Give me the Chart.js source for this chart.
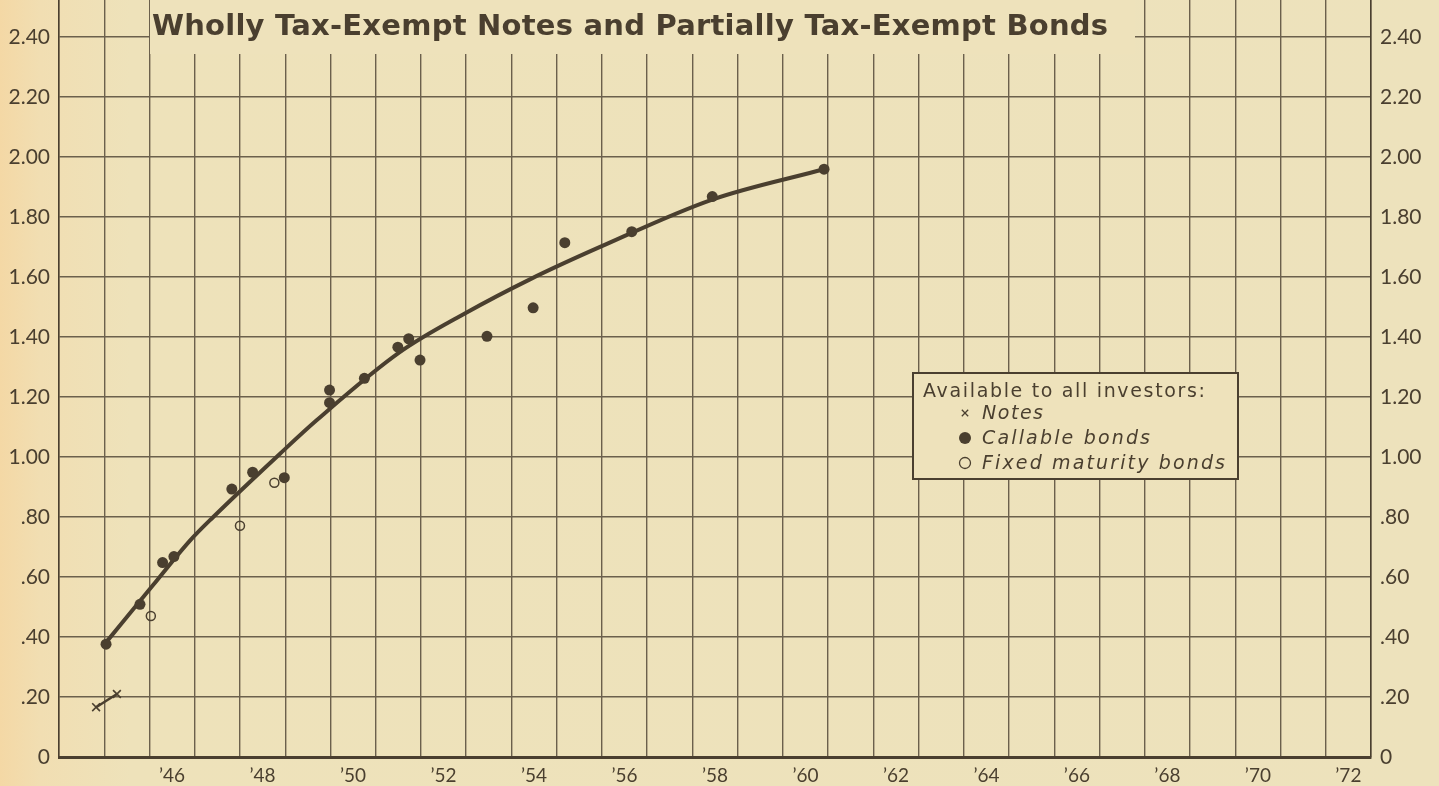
<!DOCTYPE html>
<html>
<head>
<meta charset="utf-8">
<title>Wholly Tax-Exempt Notes and Partially Tax-Exempt Bonds</title>
<script src="https://cdn.jsdelivr.net/npm/chart.js@4.4.1/dist/chart.umd.min.js"></script>
<style>
  html, body { margin: 0; padding: 0; }
  body {
    width: 1439px;
    height: 786px;
    overflow: hidden;
    background: linear-gradient(to right, #f4d8a5 0px, #f1deb2 40px, #eee2ba 130px, #ede2bc 100%);
  }
  #wrap { position: relative; width: 1439px; height: 786px; }
</style>
</head>
<body>
<div id="wrap"><canvas id="chartYieldCurve"></canvas></div>
<script>
// values (year of maturity, yield in %)
const callableYears = [1945.04, 1945.79, 1946.29, 1946.54, 1947.82, 1948.28, 1948.98, 1949.98, 1949.98, 1950.75, 1951.49, 1951.73, 1951.98, 1953.46, 1954.48, 1955.18, 1956.66, 1958.44, 1960.91]
const callableYields = [0.376, 0.509, 0.648, 0.668, 0.893, 0.949, 0.931, 1.223, 1.181, 1.262, 1.366, 1.394, 1.323, 1.402, 1.497, 1.714, 1.751, 1.868, 1.959]

const fixedYears = [1946.03, 1948.00, 1948.76]
const fixedYields = [0.470, 0.771, 0.914]

const notesYears = [1944.82, 1945.28]
const notesYields = [0.166, 0.210]

// fitted curve, points
const curveYears = [1945.04, 1946.08, 1946.90, 1947.41, 1948.88, 1949.70, 1951.54, 1952.98, 1954.41, 1955.96, 1958.44, 1960.91]
const curveYields = [0.382, 0.573, 0.722, 0.800, 1.010, 1.123, 1.350, 1.479, 1.592, 1.700, 1.858, 1.959]

const yTicks = [0, 0.2, 0.4, 0.6, 0.8, 1.0, 1.2, 1.4, 1.6, 1.8, 2.0, 2.2, 2.4]
const yTickLabels = ['0', '.20', '.40', '.60', '.80', '1.00', '1.20', '1.40', '1.60', '1.80', '2.00', '2.20', '2.40']

const xLabelYears = [1946, 1948, 1950, 1952, 1954, 1956, 1958, 1960, 1962, 1964, 1966, 1968, 1970, 1972]
const xTickLabels = ['\u201946', '\u201948', '\u201950', '\u201952', '\u201954', '\u201956', '\u201958', '\u201960', '\u201962', '\u201964', '\u201966', '\u201968', '\u201970', '\u201972']

const titleText = 'Wholly Tax-Exempt Notes and Partially Tax-Exempt Bonds'
const legendTitle = 'Available to all investors:'

const ink = '#4a3f2f'
const gridInk = '#6b604c'
const paper = '#eee2bb'

const xMin = 1944
const xMax = 1973
const yMax = 2.523

function points(xs, ys) {
    return xs.map((x, i) => ({x: x, y: ys[i]}))
}

// text stretched to a given width, like the hand lettering
function drawSpaced(ctx, text, x, y, width) {
    ctx.letterSpacing = '0px'
    const w = ctx.measureText(text).width
    const gap = (width - w) / (text.length - 1)
    ctx.letterSpacing = gap + 'px'
    ctx.fillText(text, x, y)
    ctx.letterSpacing = '0px'
}

const titleBox = {
    id: 'titleBox',
    afterDraw(chart) {
        const ctx = chart.ctx
        ctx.save()
        ctx.fillStyle = paper
        ctx.fillRect(150, 0, 985, 54)
        ctx.fillStyle = ink
        ctx.font = 'bold 29px "DejaVu Sans"'
        ctx.textBaseline = 'alphabetic'
        drawSpaced(ctx, titleText, 152, 35, 956)
        ctx.restore()
    }
}

const legendBox = {
    id: 'legendBox',
    afterDraw(chart) {
        const ctx = chart.ctx
        const bx = 913, by = 373, bw = 325, bh = 106
        ctx.save()
        ctx.fillStyle = paper
        ctx.fillRect(bx, by, bw, bh)
        ctx.lineWidth = 2
        ctx.strokeStyle = ink
        ctx.strokeRect(bx, by, bw, bh)

        ctx.fillStyle = ink
        ctx.textBaseline = 'alphabetic'
        ctx.font = '19px "DejaVu Sans"'
        drawSpaced(ctx, legendTitle, bx + 10, by + 24, 282)

        const entries = chart.data.datasets.filter(d => d.legendLabel)
        const widths = [61, 168, 243]
        entries.forEach((d, i) => {
            const cy = by + 40 + i * 25
            ctx.fillStyle = d.backgroundColor
            ctx.strokeStyle = d.borderColor
            ctx.lineWidth = d.legendBorder
            Chart.helpers.drawPoint(ctx, {pointStyle: d.pointStyle, radius: d.legendRadius, rotation: 0, borderWidth: d.legendBorder}, bx + 52, cy)
            ctx.fillStyle = ink
            ctx.font = 'italic 19px "DejaVu Sans"'
            drawSpaced(ctx, d.legendLabel, bx + 69, cy + 6, widths[i])
        })
        ctx.restore()
    }
}

const data = {
    datasets: [
        {
            legendLabel: 'Notes',
            data: points(notesYears, notesYields),
            showLine: true,
            borderColor: ink,
            backgroundColor: ink,
            borderWidth: 2.5,
            pointStyle: 'crossRot',
            pointRadius: 5.5,
            pointBorderWidth: 1.6,
            legendRadius: 4.5,
            legendBorder: 1.3,
            order: 1
        },
        {
            legendLabel: 'Callable bonds',
            data: points(callableYears, callableYields),
            showLine: false,
            borderColor: ink,
            backgroundColor: ink,
            pointStyle: 'circle',
            pointRadius: 5.5,
            pointBorderWidth: 0,
            legendRadius: 6,
            legendBorder: 0,
            order: 1
        },
        {
            legendLabel: 'Fixed maturity bonds',
            data: points(fixedYears, fixedYields),
            showLine: false,
            borderColor: ink,
            backgroundColor: 'rgba(0,0,0,0)',
            pointStyle: 'circle',
            pointRadius: 4.5,
            pointBorderWidth: 1.5,
            legendRadius: 5.5,
            legendBorder: 1.3,
            order: 1
        },
        {
            data: points(curveYears, curveYields),
            showLine: true,
            borderColor: ink,
            borderWidth: 4,
            pointRadius: 0,
            cubicInterpolationMode: 'monotone',
            order: 2
        }
    ]
}

const zeroPadding = (scale) => {
    scale.paddingTop = 0
    scale.paddingBottom = 0
    scale.paddingLeft = 0
    scale.paddingRight = 0
}

const yAxis = (position, width, withGrid) => ({
    type: 'linear',
    position: position,
    min: 0,
    max: yMax,
    afterBuildTicks: (scale) => { scale.ticks = yTicks.map(v => ({value: v})) },
    afterFit: (scale) => { scale.width = width; zeroPadding(scale) },
    grid: {display: withGrid, color: gridInk, lineWidth: 1.4, drawTicks: false},
    border: {display: true, color: ink, width: 1.5},
    ticks: {
        color: ink,
        padding: 9,
        font: {family: 'Lato', size: 21},
        callback: (value, index) => yTickLabels[index]
    }
})

const config = {
    type: 'scatter',
    data: data,
    options: {
        responsive: true,
        maintainAspectRatio: false,
        animation: false,
        devicePixelRatio: 1,
        layout: {padding: 0, autoPadding: false},
        scales: {
            x: {
                type: 'linear',
                position: 'bottom',
                min: xMin,
                max: xMax,
                afterBuildTicks: (scale) => {
                    const ticks = []
                    for (let yr = xMin; yr <= xMax; yr++) ticks.push({value: yr})
                    scale.ticks = ticks
                },
                afterFit: (scale) => { scale.height = 29; zeroPadding(scale) },
                grid: {color: gridInk, lineWidth: 1.4, drawTicks: false},
                border: {display: true, color: ink, width: 3},
                ticks: {
                    color: ink,
                    padding: 7,
                    autoSkip: false,
                    maxRotation: 0,
                    labelOffset: 22.6,
                    font: {family: 'Lato', size: 19},
                    callback: (value) => {
                        const i = xLabelYears.indexOf(value)
                        return i >= 0 ? xTickLabels[i] : ''
                    }
                }
            },
            y: yAxis('left', 59, true),
            y2: yAxis('right', 68, false)
        },
        plugins: {
            legend: {display: false},
            title: {display: false},
            tooltip: {enabled: false}
        }
    },
    plugins: [titleBox, legendBox]
}

const myChart = new Chart(
    document.getElementById('chartYieldCurve'),
    config
)
</script>
</body>
</html>
